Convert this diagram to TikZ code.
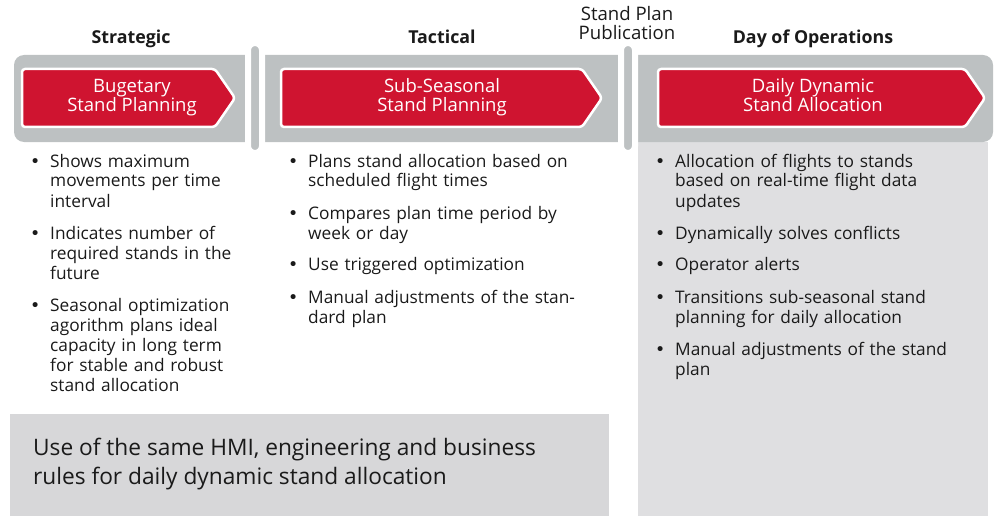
\documentclass[tikz,border=0pt]{standalone}
\usepackage{fontspec}
\setmainfont{Open Sans}
\newfontfamily\dotfont{DejaVu Sans}
\definecolor{bandgray}{HTML}{BDC1C2}
\definecolor{panelgray}{HTML}{DFDFE1}
\definecolor{boxgray}{HTML}{D7D7D9}
\definecolor{brandred}{HTML}{CF1430}
\definecolor{ink}{HTML}{1A1A1A}
% one bullet entry with a hanging indent
\newcommand{\bentry}{\noindent\hangindent=20pt\hangafter=1\makebox[20pt][l]{{\dotfont •}}}
\begin{document}
\begin{tikzpicture}[x=1pt,y=-1pt,
  phase/.style={font=\fontsize{17.8}{20}\selectfont\bfseries, text=ink, anchor=base, inner sep=0pt},
  milestone/.style={font=\fontsize{18.6}{19}\selectfont, text=ink, align=center, anchor=base, inner sep=0pt},
  steptext/.style={font=\fontsize{18.5}{19}\selectfont, text=white, align=center, anchor=base, inner sep=0pt},
  chevron/.style={draw=white, line width=2.5pt, fill=brandred, rounded corners=3pt, line join=round},
  post/.style={draw=white, line width=6pt, fill=bandgray, rounded corners=7pt},
  bullets/.style={font=\fontsize{17.3}{20}\selectfont, text=ink, text width=330pt, align=left, anchor=base west, inner sep=0pt},
  note/.style={font=\fontsize{22.7}{29.5}\selectfont, text=ink, align=left, anchor=base west, inner sep=0pt}]
\useasboundingbox (0,0) rectangle (998,516);

% background panels
\fill[panelgray] (638,142) rectangle (988,516);
\fill[boxgray] (10,414) rectangle (609,516);

% grey time band with the two milestone posts
\fill[bandgray, rounded corners=10pt] (14,55) rectangle (993,142);
\draw[post] (248,43) rectangle (262,153);
\draw[post] (621,43) rectangle (635,153);

% red process chevrons
\draw[chevron] (22,69) -- (215,69) -- (235,98) -- (215,127) -- (22,127) -- cycle;
\draw[chevron] (281,69) -- (582,69) -- (602,98) -- (582,127) -- (281,127) -- cycle;
\draw[chevron] (658,69) -- (965,69) -- (985,98) -- (965,127) -- (658,127) -- cycle;

% chevron captions, placed by the baseline of their second line
\node[steptext] (budget) at (132,112) {Bugetary\\Stand Planning};
\node[steptext] (subseason) at (442,112) {Sub-Seasonal\\Stand Planning};
\node[steptext] (daily) at (813,112) {Daily Dynamic\\Stand Allocation};

% phase headings
\node[phase] (strategic) at (131,44) {Strategic};
\node[phase] (tactical) at (442,44) {Tactical};
\node[phase] (dayops) at (813,44) {Day of Operations};
\node[milestone] (publication) at (627,40) {Stand Plan\\Publication};

% bullet lists
\node[bullets] (listA) at (30,167) {\setlength{\parskip}{12pt}%
\bentry Shows maximum\newline movements per time\newline interval\par
\bentry Indicates number of\newline required stands in the\newline future\par
\bentry Seasonal optimization\newline agorithm plans ideal\newline capacity in long term\newline for stable and robust\newline stand allocation\par};

\node[bullets] (listB) at (288,167) {\setlength{\parskip}{12pt}%
\bentry Plans stand allocation based on\newline scheduled flight times\par
\bentry Compares plan time period by\newline week or day\par
\bentry Use triggered optimization\par
\bentry Manual adjustments of the stan-\newline dard plan\par};

\node[bullets] (listC) at (655,167) {\setlength{\parskip}{12pt}%
\bentry Allocation of flights to stands\newline based on real-time flight data\newline updates\par
\bentry Dynamically solves conflicts\par
\bentry Operator alerts\par
\bentry Transitions sub-seasonal stand\newline planning for daily allocation\par
\bentry Manual adjustments of the stand\newline plan\par};

% shared rules note
\node[note] (shared) at (33,484.5) {Use of the same HMI, engineering and business\\rules for daily dynamic stand allocation};
\end{tikzpicture}
\end{document}
